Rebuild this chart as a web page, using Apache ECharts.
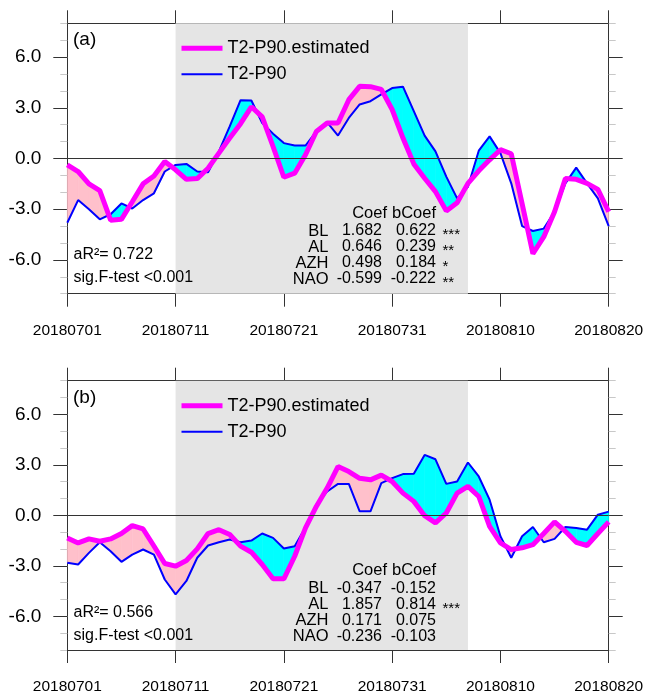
<!DOCTYPE html>
<html>
<head>
<meta charset="utf-8">
<script src="https://cdn.jsdelivr.net/npm/echarts@6/dist/echarts.min.js"></script>
<style>
html,body{margin:0;padding:0;background:#fff;}
#chart{width:650px;height:695px;}
</style>
</head>
<body>
<div id="chart"></div>
<script>
// ---- data ----
const dates = [];
for (let d = 1; d <= 31; d++) dates.push('201807' + String(d).padStart(2, '0'));
for (let d = 1; d <= 20; d++) dates.push('201808' + String(d).padStart(2, '0'));

const estA = [-0.38,-0.77,-1.5,-1.9,-3.65,-3.6,-2.56,-1.5,-1.03,-0.18,
  -0.67,-1.23,-1.19,-0.58,0.32,1.21,2.06,3.06,2.46,0.71,
  -1.11,-0.87,0.22,1.6,2.1,2.1,3.48,4.27,4.25,4.09,
  2.9,1.21,-0.32,-1.17,-1.96,-3.1,-2.62,-1.47,-0.73,-0.08,
  0.52,0.28,-2.66,-5.63,-4.64,-3.15,-1.19,-1.23,-1.47,-1.83,-3.15];
const obsA = [-3.8,-2.46,-3.0,-3.6,-3.3,-2.66,-2.96,-2.46,-2.06,-0.77,
  -0.38,-0.32,-0.77,-0.81,0.42,1.9,3.45,3.43,2.1,1.47,
  0.91,0.77,0.77,1.6,2.14,1.36,2.4,3.2,3.39,3.79,
  4.17,4.25,2.8,1.35,0.42,-1.07,-2.36,-1.67,0.46,1.31,
  0.32,-1.47,-4.0,-4.29,-4.15,-3.15,-1.47,-0.54,-1.47,-2.36,-4.0];
const estB = [-1.34,-1.64,-1.4,-1.54,-1.4,-1.08,-0.61,-0.81,-1.82,-2.86,
  -3.02,-2.68,-1.99,-1.08,-0.85,-1.14,-1.83,-2.19,-2.92,-3.77,
  -3.77,-2.43,-0.75,0.53,1.62,2.9,2.6,2.2,2.11,2.39,
  2.01,1.32,0.83,-0.02,-0.45,0.14,1.32,1.72,1.12,-0.65,
  -1.64,-2.03,-1.93,-1.74,-1.08,-0.39,-0.95,-1.6,-1.79,-1.08,-0.39];
const obsB = [-2.82,-2.92,-2.23,-1.6,-2.13,-2.76,-2.33,-2.03,-2.33,-3.81,
  -4.69,-3.9,-2.52,-1.79,-1.6,-1.44,-1.6,-1.5,-1.08,-1.34,
  -1.97,-1.83,-0.7,0.63,1.42,1.87,1.87,0.24,0.24,1.91,
  2.21,2.45,2.47,3.59,3.33,1.87,2.01,3.14,2.31,0.93,
  -1.24,-2.52,-1.24,-0.69,-1.6,-1.4,-0.69,-0.75,-0.85,0.04,0.22];

const yTicks = [-6, -3, 0, 3, 6];
const shadeStart = '20180711', shadeEnd = '20180807';
const predictors = ['BL', 'AL', 'AZH', 'NAO'];
const coefA = ['1.682', '0.646', '0.498', '-0.599'];
const bCoefA = ['0.622', '0.239', '0.184', '-0.222'];
const sigA = ['***', '**', '*', '**'];
const coefB = ['-0.347', '1.857', '0.171', '-0.236'];
const bCoefB = ['-0.152', '0.814', '0.075', '-0.103'];
const sigB = ['', '***', '', ''];
const aR2 = ['0.722', '0.566'];
const panelLabels = ['(a)', '(b)'];
const seriesNames = ['T2-P90.estimated', 'T2-P90'];

// ---- layout ----
const FONT = '"Liberation Sans", Arial, Helvetica, sans-serif';
const GL = 67.3, GW = 541.4, GH = 270.4;
const tops = [23.3, 380.7];
const AX = '#333';
const EST_COLOR = '#ff00ff', OBS_COLOR = '#0000ff';

const grids = tops.map(t => ({left: GL, top: t, width: GW, height: GH}));
const xAxes = [], yAxes = [];
[0, 1].forEach(g => {
  ['bottom', 'top'].forEach(pos => {
    xAxes.push({
      gridIndex: g, type: 'category', data: dates, boundaryGap: false, position: pos,
      axisLine: {show: true, onZero: false, lineStyle: {color: AX, width: 1}},
      axisTick: {show: true, interval: 9, length: 13, lineStyle: {color: AX}},
      axisLabel: {show: pos === 'bottom', interval: 9, fontSize: 15.5, margin: 29, color: '#000', fontFamily: FONT},
      splitLine: {show: false}
    });
  });
  ['left', 'right'].forEach(pos => {
    yAxes.push({
      gridIndex: g, type: 'value', position: pos, min: -8, max: 8, interval: 1,
      axisLine: {show: false},
      axisTick: {show: true, length: 7, lineStyle: {color: '#c8c8c8'}},
      axisLabel: {show: false}, splitLine: {show: false}
    });
    yAxes.push({
      gridIndex: g, type: 'value', position: pos, min: -8, max: 8,
      axisLine: {show: true, onZero: false, lineStyle: {color: AX, width: 1}},
      axisTick: {show: true, length: 14, customValues: yTicks, lineStyle: {color: AX}},
      axisLabel: {show: pos === 'left', customValues: yTicks, fontSize: 19, margin: 26,
        color: '#000', fontFamily: FONT, formatter: v => Number(v).toFixed(1)},
      splitLine: {show: false}
    });
  });
});

function fillRender(params, api) {
  const i = api.value(0), e0 = api.value(1), o0 = api.value(2), e1 = api.value(3), o1 = api.value(4);
  const E0 = api.coord([i, e0]), O0 = api.coord([i, o0]);
  const E1 = api.coord([i + 1, e1]), O1 = api.coord([i + 1, o1]);
  const d0 = e0 - o0, d1 = e1 - o1;
  const col = d => (d >= 0 ? '#ffc0cb' : '#00ffff');
  const poly = (pts, c) => ({type: 'polygon', shape: {points: pts},
    style: {fill: c, stroke: c, lineWidth: 0.6}});
  const children = [];
  if (d0 * d1 >= 0) {
    children.push(poly([E0, E1, O1, O0], col(d0 !== 0 ? d0 : d1)));
  } else {
    const t = d0 / (d0 - d1);
    const C = [E0[0] + t * (E1[0] - E0[0]), E0[1] + t * (E1[1] - E0[1])];
    children.push(poly([E0, C, O0], col(d0)));
    children.push(poly([C, E1, O1], col(d1)));
  }
  return {type: 'group', children};
}

const series = [];
[[estA, obsA], [estB, obsB]].forEach(([est, obs], g) => {
  const xi = g * 2, yi = g * 4 + 1;
  series.push({
    type: 'line', name: 'shade' + g, xAxisIndex: xi, yAxisIndex: yi, data: [], z: 0, silent: true,
    markArea: {silent: true, itemStyle: {color: '#e5e5e5'},
      data: [[{xAxis: shadeStart}, {xAxis: shadeEnd}]]}
  });
  const segs = [];
  for (let i = 0; i < est.length - 1; i++) segs.push([i, est[i], obs[i], est[i + 1], obs[i + 1]]);
  series.push({
    type: 'custom', name: 'fill' + g, xAxisIndex: xi, yAxisIndex: yi, z: 1, silent: true,
    renderItem: fillRender, data: segs, encode: {x: 0, y: 1}
  });
  series.push({
    type: 'line', name: seriesNames[1], xAxisIndex: xi, yAxisIndex: yi, z: 3,
    data: obs, symbol: 'none', showSymbol: false,
    lineStyle: {color: OBS_COLOR, width: 2}, itemStyle: {color: OBS_COLOR},
    markLine: {silent: true, symbol: 'none', label: {show: false},
      lineStyle: {color: AX, width: 1, type: 'solid'}, data: [{yAxis: 0}]}
  });
  series.push({
    type: 'line', name: seriesNames[0], xAxisIndex: xi, yAxisIndex: yi, z: 4,
    data: est, symbol: 'none', showSymbol: false,
    lineStyle: {color: EST_COLOR, width: 5}, itemStyle: {color: EST_COLOR}
  });
});

const legends = tops.map(t => ({
  data: [
    {name: seriesNames[0], lineStyle: {width: 5, color: EST_COLOR}, itemStyle: {opacity: 0}},
    {name: seriesNames[1], lineStyle: {width: 2, color: OBS_COLOR}, itemStyle: {opacity: 0}}
  ],
  orient: 'vertical', left: 179, top: t + 16, padding: 0,
  itemWidth: 41, itemHeight: 14, itemGap: 8, selectedMode: false,
  itemStyle: {opacity: 0},
  textStyle: {fontSize: 18, color: '#000', fontFamily: FONT}
}));

const graphics = [];
const txt = (text, x, y, size, align) => ({
  type: 'text', x, y, silent: true, z: 100,
  style: {text, fill: '#000', font: size + 'px ' + FONT, textAlign: align || 'left', textVerticalAlign: 'middle'}
});
[[coefA, bCoefA, sigA], [coefB, bCoefB, sigB]].forEach(([c, b, s], g) => {
  const dy = tops[g] - tops[0];
  graphics.push(txt(panelLabels[g], 73, 40 + dy, 19));
  graphics.push(txt('aR\u00b2= ' + aR2[g], 73.5, 255 + dy, 16));
  graphics.push(txt('sig.F-test <0.001', 73.5, 278 + dy, 16));
  graphics.push(txt('Coef', 387, 213.5 + dy, 16.5, 'right'));
  graphics.push(txt('bCoef', 436, 213.5 + dy, 16.5, 'right'));
  predictors.forEach((p, k) => {
    const y = 231 + k * 16 + dy;
    graphics.push(txt(p, 328.5, y, 16.5, 'right'));
    graphics.push(txt(c[k], 382, y, 16, 'right'));
    graphics.push(txt(b[k], 436, y, 16, 'right'));
    if (s[k]) graphics.push(txt(s[k], 442.5, y + 4, 15));
  });
});

const chart = echarts.init(document.getElementById('chart'), null, {renderer: 'canvas'});
chart.setOption({
  animation: false,
  backgroundColor: '#fff',
  textStyle: {fontFamily: FONT},
  grid: grids, xAxis: xAxes, yAxis: yAxes, legend: legends,
  series, graphic: {elements: graphics}
});
</script>
</body>
</html>
